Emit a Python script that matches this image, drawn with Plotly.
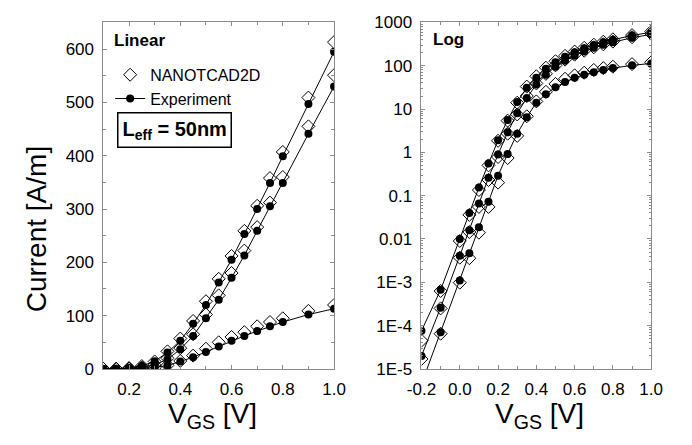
import plotly.graph_objects as go

# ---------------- data ----------------
vgs = [-0.2, -0.1, 0.0, 0.05, 0.1, 0.15, 0.2, 0.25, 0.3, 0.35, 0.4, 0.45,
       0.5, 0.55, 0.6, 0.65, 0.7, 0.75, 0.8, 0.9, 1.0]

exp_a = [7.6e-5, 6.7e-4, 0.010, 0.040, 0.155, 0.55, 1.9, 5.6, 14.5, 31, 53, 85,
         120, 162, 205, 253, 300, 349, 399, 497, 595]
sim_a = [4.5e-5, 6.3e-4, 0.0090, 0.036, 0.135, 0.50, 1.85, 5.4, 14, 33, 57, 90,
         127, 169, 212, 259, 306, 358, 407, 509, 613]

exp_b = [2.0e-5, 2.6e-4, 0.0041, 0.016, 0.066, 0.26, 0.89, 2.9, 8.0, 18, 37, 62,
         95, 130, 171, 213, 259, 305, 349, 441, 530]
sim_b = [1.7e-5, 2.5e-4, 0.0037, 0.0145, 0.055, 0.23, 0.78, 2.7, 7.5, 20, 39, 65,
         102, 138, 180, 222, 266, 312, 360, 455, 551]

exp_c = [4.5e-6, 7.0e-5, 0.0011, 0.0047, 0.0186, 0.072, 0.29, 0.92, 2.7, 6.5, 14, 22,
         32, 42, 53, 62, 71, 80, 88, 102, 113]
sim_c = [3.5e-6, 6.5e-5, 0.00098, 0.0036, 0.014, 0.055, 0.20, 0.74, 2.4, 6.8, 15, 25,
         38, 50, 60, 69, 80, 88, 95, 109, 120]

lin_xticks = [0.2, 0.4, 0.6, 0.8, 1.0]
lin_xlabels = ["0.2", "0.4", "0.6", "0.8", "1.0"]
log_xticks = [-0.2, 0.0, 0.2, 0.4, 0.6, 0.8, 1.0]
log_xlabels = ["-0.2", "0.0", "0.2", "0.4", "0.6", "0.8", "1.0"]
log_yticks = [1e-5, 1e-4, 1e-3, 1e-2, 1e-1, 1, 10, 100, 1000]
log_ylabels = ["1E-5", "1E-4", "1E-3", "0.01", "0.1", "1", "10", "100", "1000"]

FONT = "Liberation Sans, Arial, sans-serif"
AX = "#8a8a8a"

fig = go.Figure()

series = [(sim_a, exp_a), (sim_b, exp_b), (sim_c, exp_c)]
for panel, (xa, ya) in enumerate([("x", "y"), ("x2", "y2")]):
    for i, (sim, exp) in enumerate(series):
        first = (panel == 0 and i == 0)
        fig.add_trace(go.Scatter(
            x=vgs, y=sim, mode="markers", xaxis=xa, yaxis=ya,
            name="NANOTCAD2D", legendgroup="sim", showlegend=first,
            marker=dict(symbol="diamond-open", size=10, color="black",
                        line=dict(width=1, color="black"))))
    for i, (sim, exp) in enumerate(series):
        first = (panel == 0 and i == 0)
        fig.add_trace(go.Scatter(
            x=vgs, y=exp, mode="lines+markers", xaxis=xa, yaxis=ya,
            name="Experiment", legendgroup="exp", showlegend=first,
            line=dict(color="black", width=1),
            marker=dict(symbol="circle", size=8, color="black")))

W, H = 692, 445
def px(x): return x / W
def py(y): return 1 - y / H

axis_common = dict(showline=True, linecolor=AX, linewidth=1, mirror="ticks",
                   ticks="inside", ticklen=4, tickcolor=AX, showgrid=False,
                   zeroline=False, ticklabelstandoff=5,
                   tickfont=dict(family=FONT, size=17, color="black"))

minor_log = [k * 10 ** n for n in range(-5, 3) for k in range(2, 10)]

fig.update_layout(
    width=W, height=H, margin=dict(l=0, r=0, t=0, b=0),
    paper_bgcolor="white", plot_bgcolor="white",
    font=dict(family=FONT, color="black"),
    xaxis=dict(domain=[px(92), px(332)], range=[0.1, 1.0], tickvals=lin_xticks,
               ticktext=lin_xlabels,
               minor=dict(dtick=0.1, ticks="inside", ticklen=3, tickcolor=AX),
               anchor="y", **axis_common),
    yaxis=dict(domain=[py(376), py(14)], range=[0, 650], dtick=100,
               minor=dict(dtick=50, ticks="inside", ticklen=3, tickcolor=AX),
               anchor="x", **axis_common),
    xaxis2=dict(domain=[px(423), px(662)], range=[-0.2, 1.0], tickvals=log_xticks,
                ticktext=log_xlabels,
                minor=dict(dtick=0.1, ticks="inside", ticklen=3, tickcolor=AX),
                anchor="y2", **axis_common),
    yaxis2=dict(domain=[py(376), py(14)], type="log", range=[-5, 3],
                tickvals=log_yticks, ticktext=log_ylabels,
                minor=dict(tickvals=minor_log, ticks="inside", ticklen=2, tickcolor=AX),
                anchor="x2", **axis_common),
    legend=dict(x=px(99), y=py(51), xanchor="left", yanchor="top",
                bgcolor="rgba(0,0,0,0)", font=dict(family=FONT, size=16, color="black"),
                tracegroupgap=0),
    showlegend=True,
)

annots = [
    dict(text="<b>Linear</b>", x=px(101), y=py(33), xanchor="left", yanchor="middle",
         font=dict(size=17)),
    dict(text="<b>Log</b>", x=px(433), y=py(32), xanchor="left", yanchor="middle",
         font=dict(size=17)),
    dict(text="<b>L<sub>eff</sub> = 50nm</b>", x=px(166), y=py(126), xanchor="center",
         yanchor="middle", font=dict(size=20), bordercolor="black", borderwidth=1.5,
         borderpad=4),
    dict(text="Current [A/m]", x=px(22), y=py(230), textangle=-90, xanchor="center",
         yanchor="middle", font=dict(size=28)),
    dict(text="V<sub>GS</sub> [V]", x=px(206), y=py(425), xanchor="center",
         yanchor="middle", font=dict(size=28)),
    dict(text="V<sub>GS</sub> [V]", x=px(546), y=py(425), xanchor="center",
         yanchor="middle", font=dict(size=28)),
]
for a in annots:
    a.update(xref="paper", yref="paper", showarrow=False)
    a["font"].setdefault("family", FONT)
    a["font"].setdefault("color", "black")
fig.update_layout(annotations=annots)

fig.write_html("out.html",
               post_script="document.body.style.margin='0';document.body.style.overflow='hidden';")
